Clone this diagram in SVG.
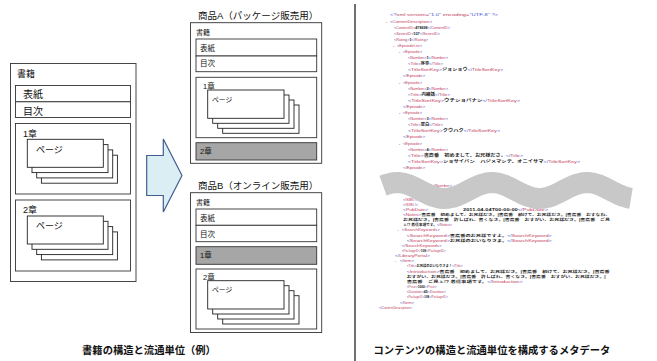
<svg xmlns="http://www.w3.org/2000/svg" xmlns:xlink="http://www.w3.org/1999/xlink" width="657" height="361" viewBox="0 0 657 361">
<style>
.bx{fill:#fff;stroke:#333;stroke-width:0.9}
.gy{fill:#a6a6a6;stroke:#333;stroke-width:0.9}
.pg{fill:#fff;stroke:#222;stroke-width:0.9}
.t{font-family:"Liberation Sans","Noto Sans CJK JP",sans-serif;fill:#111}
.f10{font-size:10px}.f9{font-size:9px}.f95{font-size:9.5px}.f75{font-size:7.5px}.f7{font-size:7px}.f65{font-size:6.8px}
.x{font-family:"Liberation Sans","Noto Sans CJK JP",sans-serif;font-size:4px}
.xs{font-size:3.2px}
.b{fill:#4455d6}
.r{fill:#c43c5c}
.v{fill:#1a1a1a;font-weight:bold}
.d{fill:#d23a3a;font-weight:bold}
.cap{font-family:"Liberation Sans","Noto Sans CJK JP",sans-serif;font-size:10.3px;font-weight:bold;fill:#111;text-anchor:middle}
</style>
<defs>
<g id="stackL">
<rect class="pg" x="14.1" y="15.9" width="76" height="28"/>
<rect class="pg" x="9.4" y="10.6" width="76" height="28"/>
<rect class="pg" x="4.7" y="5.3" width="76" height="28"/>
<rect class="pg" x="0" y="0" width="76" height="28"/>
</g>
<g id="stackM">
<rect class="pg" x="15" y="15" width="76.3" height="28.3"/>
<rect class="pg" x="10" y="10" width="76.3" height="28.3"/>
<rect class="pg" x="5" y="5" width="76.3" height="28.3"/>
<rect class="pg" x="0" y="0" width="76.3" height="28.3"/>
</g>
</defs>
<rect width="657" height="361" fill="#fff"/>

<g id="book">
<rect class="bx" x="10.5" y="63.5" width="125.5" height="218"/>
<text class="t f9" x="17" y="76.8">書籍</text>
<rect class="bx" x="15.5" y="85.5" width="115" height="16.3"/>
<text class="t f10" x="23" y="97.8">表紙</text>
<rect class="bx" x="15.5" y="101.8" width="115" height="15.7"/>
<text class="t f10" x="23" y="115">目次</text>
<rect class="bx" x="15.5" y="123.5" width="115" height="70.5"/>
<text class="t f9" x="23" y="136.5">1章</text>
<use xlink:href="#stackL" x="27.3" y="139.3"/>
<text class="t f9" x="36" y="152.8">ページ</text>
<rect class="bx" x="15.5" y="200" width="115" height="71"/>
<text class="t f9" x="23" y="212.5">2章</text>
<use xlink:href="#stackL" x="27.3" y="216"/>
<text class="t f9" x="36" y="228.5">ページ</text>
</g>

<g id="connectors">
<path d="M146.7,155.5 H163.3 V139 L182,175.5 L163.3,212 V195.5 H146.7 Z" fill="#dbeef4" stroke="#3f5f8f" stroke-width="1.2" stroke-linejoin="miter"/>
</g>

<g id="productA">
<text class="t f95" x="198" y="19">商品A（パッケージ販売用）</text>
<rect class="bx" x="190.5" y="22.7" width="131.2" height="140.6"/>
<text class="t f7" x="196" y="35">書籍</text>
<rect class="bx" x="196" y="39" width="120.7" height="17"/>
<text class="t f75" x="200" y="50.5">表紙</text>
<rect class="bx" x="196" y="56" width="120.7" height="15.7"/>
<text class="t f75" x="200" y="66">目次</text>
<rect class="bx" x="196" y="77.3" width="120.7" height="60.4"/>
<text class="t f75" x="203" y="88.8">1章</text>
<use xlink:href="#stackM" x="207.7" y="90"/>
<text class="t f65" x="212" y="102">ページ</text>
<rect class="gy" x="196" y="142.7" width="120.7" height="17.3"/>
<text class="t f75" x="200" y="153.5">2章</text>
</g>

<g id="productB">
<text class="t f95" x="198" y="189">商品B（オンライン販売用）</text>
<rect class="bx" x="190.5" y="192.7" width="131.2" height="139.8"/>
<text class="t f7" x="196" y="205">書籍</text>
<rect class="bx" x="196" y="209" width="120.7" height="16.3"/>
<text class="t f75" x="200" y="220.8">表紙</text>
<rect class="bx" x="196" y="225.3" width="120.7" height="16.4"/>
<text class="t f75" x="200" y="236.8">目次</text>
<rect class="gy" x="196" y="246.7" width="120.7" height="17.6"/>
<text class="t f75" x="200" y="258">1章</text>
<rect class="bx" x="196" y="269" width="120.7" height="60"/>
<text class="t f75" x="203" y="280.3">2章</text>
<use xlink:href="#stackM" x="207.7" y="280.7"/>
<text class="t f65" x="212" y="292">ページ</text>
</g>

<g id="divider">
<line x1="355" y1="4" x2="355" y2="361" stroke="#111" stroke-width="1.2"/>
</g>

<g id="xml-metadata">
<text class="x" x="390" y="16.4" textLength="108" lengthAdjust="spacingAndGlyphs"><tspan class="b">&lt;?</tspan><tspan class="r">xml version=</tspan><tspan class="b">"1.0"</tspan><tspan class="r"> encoding=</tspan><tspan class="b">"UTF-8"</tspan><tspan class="b"> ?&gt;</tspan></text>
<text class="x d" x="386" y="22.5">-</text>
<text class="x" x="390" y="22.5" textLength="42" lengthAdjust="spacingAndGlyphs"><tspan class="b">&lt;</tspan><tspan class="r">ContentDescription</tspan><tspan class="b">&gt;</tspan></text>
<text class="x" x="394" y="28.6" textLength="56" lengthAdjust="spacingAndGlyphs"><tspan class="b">&lt;</tspan><tspan class="r">ContentID</tspan><tspan class="b">&gt;</tspan><tspan class="v">478698</tspan><tspan class="b">&lt;/</tspan><tspan class="r">ContentID</tspan><tspan class="b">&gt;</tspan></text>
<text class="x" x="394" y="34.7" textLength="46" lengthAdjust="spacingAndGlyphs"><tspan class="b">&lt;</tspan><tspan class="r">SeriesID</tspan><tspan class="b">&gt;</tspan><tspan class="v">107</tspan><tspan class="b">&lt;/</tspan><tspan class="r">SeriesID</tspan><tspan class="b">&gt;</tspan></text>
<text class="x" x="394" y="40.8" textLength="34" lengthAdjust="spacingAndGlyphs"><tspan class="b">&lt;</tspan><tspan class="r">Rating</tspan><tspan class="b">&gt;</tspan><tspan class="v">1</tspan><tspan class="b">&lt;/</tspan><tspan class="r">Rating</tspan><tspan class="b">&gt;</tspan></text>
<text class="x d" x="393" y="46.9">-</text>
<text class="x" x="397" y="46.9" textLength="25" lengthAdjust="spacingAndGlyphs"><tspan class="b">&lt;</tspan><tspan class="r">EpisodeList</tspan><tspan class="b">&gt;</tspan></text>

<text class="x d" x="399" y="53">-</text>
<text class="x" x="403" y="53" textLength="19" lengthAdjust="spacingAndGlyphs"><tspan class="b">&lt;</tspan><tspan class="r">Episode</tspan><tspan class="b">&gt;</tspan></text>
<text class="x" x="408" y="59.1" textLength="40" lengthAdjust="spacingAndGlyphs"><tspan class="b">&lt;</tspan><tspan class="r">Number</tspan><tspan class="b">&gt;</tspan><tspan class="v">1</tspan><tspan class="b">&lt;/</tspan><tspan class="r">Number</tspan><tspan class="b">&gt;</tspan></text>
<text class="x" x="408" y="65.2" textLength="35" lengthAdjust="spacingAndGlyphs"><tspan class="b">&lt;</tspan><tspan class="r">Title</tspan><tspan class="b">&gt;</tspan><tspan class="v">序章</tspan><tspan class="b">&lt;/</tspan><tspan class="r">Title</tspan><tspan class="b">&gt;</tspan></text>
<text class="x" x="408" y="71.3" textLength="95" lengthAdjust="spacingAndGlyphs"><tspan class="b">&lt;</tspan><tspan class="r">TitleSortKey</tspan><tspan class="b">&gt;</tspan><tspan class="v">ジョショウ</tspan><tspan class="b">&lt;/</tspan><tspan class="r">TitleSortKey</tspan><tspan class="b">&gt;</tspan></text>
<text class="x" x="403" y="77.4" textLength="22" lengthAdjust="spacingAndGlyphs"><tspan class="b">&lt;/</tspan><tspan class="r">Episode</tspan><tspan class="b">&gt;</tspan></text>

<text class="x d" x="399" y="83.5">-</text>
<text class="x" x="403" y="83.5" textLength="19" lengthAdjust="spacingAndGlyphs"><tspan class="b">&lt;</tspan><tspan class="r">Episode</tspan><tspan class="b">&gt;</tspan></text>
<text class="x" x="408" y="89.6" textLength="40" lengthAdjust="spacingAndGlyphs"><tspan class="b">&lt;</tspan><tspan class="r">Number</tspan><tspan class="b">&gt;</tspan><tspan class="v">2</tspan><tspan class="b">&lt;/</tspan><tspan class="r">Number</tspan><tspan class="b">&gt;</tspan></text>
<text class="x" x="408" y="95.7" textLength="42" lengthAdjust="spacingAndGlyphs"><tspan class="b">&lt;</tspan><tspan class="r">Title</tspan><tspan class="b">&gt;</tspan><tspan class="v">内緒話</tspan><tspan class="b">&lt;/</tspan><tspan class="r">Title</tspan><tspan class="b">&gt;</tspan></text>
<text class="x" x="408" y="101.8" textLength="112" lengthAdjust="spacingAndGlyphs"><tspan class="b">&lt;</tspan><tspan class="r">TitleSortKey</tspan><tspan class="b">&gt;</tspan><tspan class="v">ウチショバナシ</tspan><tspan class="b">&lt;/</tspan><tspan class="r">TitleSortKey</tspan><tspan class="b">&gt;</tspan></text>
<text class="x" x="403" y="107.9" textLength="22" lengthAdjust="spacingAndGlyphs"><tspan class="b">&lt;/</tspan><tspan class="r">Episode</tspan><tspan class="b">&gt;</tspan></text>

<text class="x d" x="399" y="114">-</text>
<text class="x" x="403" y="114" textLength="19" lengthAdjust="spacingAndGlyphs"><tspan class="b">&lt;</tspan><tspan class="r">Episode</tspan><tspan class="b">&gt;</tspan></text>
<text class="x" x="408" y="120.1" textLength="40" lengthAdjust="spacingAndGlyphs"><tspan class="b">&lt;</tspan><tspan class="r">Number</tspan><tspan class="b">&gt;</tspan><tspan class="v">3</tspan><tspan class="b">&lt;/</tspan><tspan class="r">Number</tspan><tspan class="b">&gt;</tspan></text>
<text class="x" x="408" y="126.2" textLength="35" lengthAdjust="spacingAndGlyphs"><tspan class="b">&lt;</tspan><tspan class="r">Title</tspan><tspan class="b">&gt;</tspan><tspan class="v">空白</tspan><tspan class="b">&lt;/</tspan><tspan class="r">Title</tspan><tspan class="b">&gt;</tspan></text>
<text class="x" x="408" y="132.3" textLength="92" lengthAdjust="spacingAndGlyphs"><tspan class="b">&lt;</tspan><tspan class="r">TitleSortKey</tspan><tspan class="b">&gt;</tspan><tspan class="v">クウハク</tspan><tspan class="b">&lt;/</tspan><tspan class="r">TitleSortKey</tspan><tspan class="b">&gt;</tspan></text>
<text class="x" x="403" y="138.4" textLength="22" lengthAdjust="spacingAndGlyphs"><tspan class="b">&lt;/</tspan><tspan class="r">Episode</tspan><tspan class="b">&gt;</tspan></text>

<text class="x d" x="399" y="144.5">-</text>
<text class="x" x="403" y="144.5" textLength="19" lengthAdjust="spacingAndGlyphs"><tspan class="b">&lt;</tspan><tspan class="r">Episode</tspan><tspan class="b">&gt;</tspan></text>
<text class="x" x="408" y="150.6" textLength="40" lengthAdjust="spacingAndGlyphs"><tspan class="b">&lt;</tspan><tspan class="r">Number</tspan><tspan class="b">&gt;</tspan><tspan class="v">4</tspan><tspan class="b">&lt;/</tspan><tspan class="r">Number</tspan><tspan class="b">&gt;</tspan></text>
<text class="x" x="408" y="156.7" textLength="115" lengthAdjust="spacingAndGlyphs"><tspan class="b">&lt;</tspan><tspan class="r">Title</tspan><tspan class="b">&gt;</tspan><tspan class="v">書斎番　初めまして、お兄様ださ。</tspan><tspan class="b">&lt;/</tspan><tspan class="r">Title</tspan><tspan class="b">&gt;</tspan></text>
<text class="x" x="408" y="162.8" textLength="172" lengthAdjust="spacingAndGlyphs"><tspan class="b">&lt;</tspan><tspan class="r">TitleSortKey</tspan><tspan class="b">&gt;</tspan><tspan class="v">ショサイバン　ハジメマシテ、オニイサマ</tspan><tspan class="b">&lt;/</tspan><tspan class="r">TitleSortKey</tspan><tspan class="b">&gt;</tspan></text>
<text class="x" x="403" y="168.9" textLength="22" lengthAdjust="spacingAndGlyphs"><tspan class="b">&lt;/</tspan><tspan class="r">Episode</tspan><tspan class="b">&gt;</tspan></text>

<text class="x" x="408" y="187.4" textLength="44" lengthAdjust="spacingAndGlyphs"><tspan class="b">&lt;</tspan><tspan class="r">Number</tspan><tspan class="b">&gt;</tspan><tspan class="v">14</tspan><tspan class="b">&lt;/</tspan><tspan class="r">Number</tspan><tspan class="b">&gt;</tspan></text>

<text class="x xs" x="403" y="200.5" textLength="15" lengthAdjust="spacingAndGlyphs"><tspan class="b">&lt;</tspan><tspan class="r">ISBN</tspan><tspan class="b"> /&gt;</tspan></text>
<text class="x xs" x="403" y="205.6" textLength="15" lengthAdjust="spacingAndGlyphs"><tspan class="b">&lt;</tspan><tspan class="r">ISSN</tspan><tspan class="b"> /&gt;</tspan></text>
<text class="x xs" x="403" y="210.8" textLength="25" lengthAdjust="spacingAndGlyphs"><tspan class="b">&lt;</tspan><tspan class="r">PubDate</tspan><tspan class="b">&gt;</tspan></text>
<text class="x xs" x="463" y="210.8" textLength="85" lengthAdjust="spacingAndGlyphs"><tspan class="v">2011-04-04T00:00:00</tspan><tspan class="b">&lt;/</tspan><tspan class="r">PubDate</tspan><tspan class="b">&gt;</tspan></text>
<text class="x xs" x="403" y="215.9" textLength="207" lengthAdjust="spacingAndGlyphs"><tspan class="b">&lt;</tspan><tspan class="r">Notes</tspan><tspan class="b">&gt;</tspan><tspan class="v">書斎番　初めまして、お兄様ださ。|書斎番　続けて、お兄様ださ。|書斎番　おすなわ、</tspan></text>
<text class="x xs" x="403" y="221.1" textLength="207" lengthAdjust="spacingAndGlyphs"><tspan class="v">お兄様ださ。|書斎番　許しばれ、書くなさ。|書斎番　おすがい、お兄様ださ。|書斎番　ご見</tspan></text>
<text class="x xs" x="403" y="226.2" textLength="49" lengthAdjust="spacingAndGlyphs"><tspan class="v">ぇ!? 着信事項です。</tspan><tspan class="b">&lt;/</tspan><tspan class="r">Notes</tspan><tspan class="b">&gt;</tspan></text>
<text class="x xs d" x="397.5" y="231.4">-</text>
<text class="x xs" x="401.7" y="231.4" textLength="38" lengthAdjust="spacingAndGlyphs"><tspan class="b">&lt;</tspan><tspan class="r">SearchKeywords</tspan><tspan class="b">&gt;</tspan></text>
<text class="x xs" x="406.7" y="236.5" textLength="145" lengthAdjust="spacingAndGlyphs"><tspan class="b">&lt;</tspan><tspan class="r">SearchKeyword</tspan><tspan class="b">&gt;</tspan><tspan class="v">書斎番のお兄様ですよ。</tspan><tspan class="b">&lt;/</tspan><tspan class="r">SearchKeyword</tspan><tspan class="b">&gt;</tspan></text>
<text class="x xs" x="406.7" y="241.7" textLength="145" lengthAdjust="spacingAndGlyphs"><tspan class="b">&lt;</tspan><tspan class="r">SearchKeyword</tspan><tspan class="b">&gt;</tspan><tspan class="v">お兄様のおいなりさま。</tspan><tspan class="b">&lt;/</tspan><tspan class="r">SearchKeyword</tspan><tspan class="b">&gt;</tspan></text>
<text class="x xs" x="401.7" y="246.8" textLength="40" lengthAdjust="spacingAndGlyphs"><tspan class="b">&lt;/</tspan><tspan class="r">SearchKeywords</tspan><tspan class="b">&gt;</tspan></text>
<text class="x xs" x="401.7" y="252" textLength="44" lengthAdjust="spacingAndGlyphs"><tspan class="b">&lt;</tspan><tspan class="r">PackageID</tspan><tspan class="b">&gt;</tspan><tspan class="v">108</tspan><tspan class="b">&lt;/</tspan><tspan class="r">PackageID</tspan><tspan class="b">&gt;</tspan></text>
<text class="x xs" x="395" y="257.1" textLength="35" lengthAdjust="spacingAndGlyphs"><tspan class="b">&lt;/</tspan><tspan class="r">LibraryPortal</tspan><tspan class="b">&gt;</tspan></text>
<text class="x xs d" x="395" y="262.3">-</text>
<text class="x xs" x="400" y="262.3" textLength="14" lengthAdjust="spacingAndGlyphs"><tspan class="b">&lt;</tspan><tspan class="r">Item</tspan><tspan class="b">&gt;</tspan></text>
<text class="x xs" x="406.7" y="267.4" textLength="56" lengthAdjust="spacingAndGlyphs"><tspan class="b">&lt;</tspan><tspan class="r">Title</tspan><tspan class="b">&gt;</tspan><tspan class="v">お兄様のおいなりさま！</tspan><tspan class="b">&lt;/</tspan><tspan class="r">Title</tspan><tspan class="b">&gt;</tspan></text>
<text class="x xs" x="406.7" y="272.6" textLength="203" lengthAdjust="spacingAndGlyphs"><tspan class="b">&lt;</tspan><tspan class="r">Introduction</tspan><tspan class="b">&gt;</tspan><tspan class="v">書斎番　初めまして、お兄様ださ。|書斎番　続けて、お兄様ださ。|書斎番</tspan></text>
<text class="x xs" x="406.7" y="277.7" textLength="199" lengthAdjust="spacingAndGlyphs"><tspan class="v">おすがい、お兄様ださ。|書斎番　許しばれ、書くなさ。|書斎番　おすがい、お兄様ださ。|</tspan></text>
<text class="x xs" x="406.7" y="282.9" textLength="116" lengthAdjust="spacingAndGlyphs"><tspan class="v">書斎番　ご見ぇ!? 着信事項です。</tspan><tspan class="b">&lt;/</tspan><tspan class="r">Introduction</tspan><tspan class="b">&gt;</tspan></text>
<text class="x xs" x="406.7" y="288" textLength="30" lengthAdjust="spacingAndGlyphs"><tspan class="b">&lt;</tspan><tspan class="r">Price</tspan><tspan class="b">&gt;</tspan><tspan class="v">1000</tspan><tspan class="b">&lt;/</tspan><tspan class="r">Price</tspan><tspan class="b">&gt;</tspan></text>
<text class="x xs" x="406.7" y="293.1" textLength="39" lengthAdjust="spacingAndGlyphs"><tspan class="b">&lt;</tspan><tspan class="r">Duration</tspan><tspan class="b">&gt;</tspan><tspan class="v">45</tspan><tspan class="b">&lt;/</tspan><tspan class="r">Duration</tspan><tspan class="b">&gt;</tspan></text>
<text class="x xs" x="406.7" y="298.4" textLength="41" lengthAdjust="spacingAndGlyphs"><tspan class="b">&lt;</tspan><tspan class="r">PackageID</tspan><tspan class="b">&gt;</tspan><tspan class="v">108</tspan><tspan class="b">&lt;/</tspan><tspan class="r">PackageID</tspan><tspan class="b">&gt;</tspan></text>
<text class="x xs" x="400" y="303.5" textLength="14" lengthAdjust="spacingAndGlyphs"><tspan class="b">&lt;/</tspan><tspan class="r">Item</tspan><tspan class="b">&gt;</tspan></text>
<text class="x xs" x="379" y="308.6" textLength="33" lengthAdjust="spacingAndGlyphs"><tspan class="b">&lt;/</tspan><tspan class="r">ContentDescription</tspan><tspan class="b">&gt;</tspan></text>

<path d="M383,185.7 L388,183.9 L393,182.8 L398,182.5 L403,183.1 L408,184.5 L413,186.6 L418,189.1 L423,191.7 L428,194.2 L433,196.3 L438,197.8 L443,198.5 L448,198.3 L453,197.3 L458,195.5 L463,193.2 L468,190.6 L473,188 L478,185.7 L483,183.9 L488,182.8 L493,182.5 L498,183.1 L503,184.5 L508,186.6 L513,189.1 L518,191.7 L523,194.2 L528,196.3 L533,197.8 L538,198.5 L543,198.3 L548,197.3 L553,195.5 L558,193.2 L563,190.6 L568,188 L573,185.7 L578,183.9 L583,182.8 L588,182.5 L593,183.1 L598,184.5 L603,186.6 L608,189.1 L613,191.7 L618,194.2 L623,196.3 L628,197.8 L631,198.3" fill="none" stroke="#c8c8c8" stroke-width="21" stroke-linejoin="round"/>
</g>

<g id="captions">
<text class="cap" x="149" y="353.5">書籍の構造と流通単位（例）</text>
<text class="cap" x="492" y="353.5">コンテンツの構造と流通単位を構成するメタデータ</text>
</g>
</svg>
